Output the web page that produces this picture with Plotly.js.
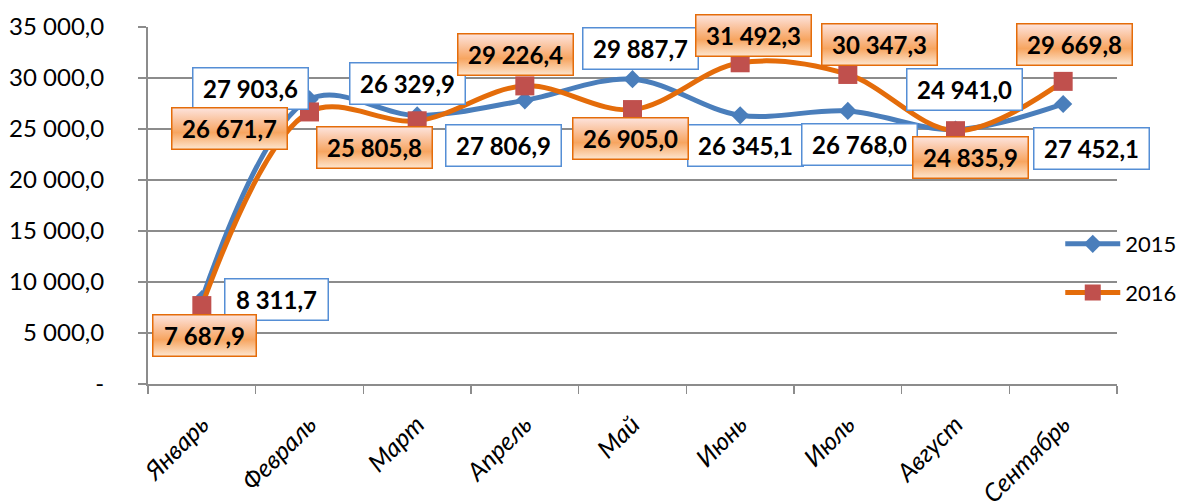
<!DOCTYPE html>
<html><head><meta charset="utf-8">
<script src="https://cdn.plot.ly/plotly-3.0.1.min.js"></script>
<style>body{margin:0;background:#fff}#c{width:1182px;height:504px}</style>
</head><body><div id="c"></div>
<script>
const months = ["Январь","Февраль","Март","Апрель","Май","Июнь","Июль","Август","Сентябрь"];
const v2015 = [8311.7, 27903.6, 26329.9, 27806.9, 29887.7, 26345.1, 26768.0, 24941.0, 27452.1];
const v2016 = [7687.9, 26671.7, 25805.8, 29226.4, 26905.0, 31492.3, 30347.3, 24835.9, 29669.8];
const labels2015 = ["8 311,7","27 903,6","26 329,9","27 806,9","29 887,7","26 345,1","26 768,0","24 941,0","27 452,1"];
const labels2016 = ["7 687,9","26 671,7","25 805,8","29 226,4","26 905,0","31 492,3","30 347,3","24 835,9","29 669,8"];
const yTickVals = [0,5000,10000,15000,20000,25000,30000,35000];
const yTickText = ["-","5 000,0","10 000,0","15 000,0","20 000,0","25 000,0","30 000,0","35 000,0"];
const seriesNames = ["2015","2016"];

// label box offsets (pixels, dx right, dy down) — layout only
const off2015 = [[75,0],[-59,-11],[-10,-32],[-21,45],[8,-31],[5,30],[12,34],[9,-40],[28,45]];
const off2016 = [[3,30],[-80,17],[-43,27],[-9,-31],[-2,29],[13,-27],[32,-30],[15,27],[11,-37]];

const FONT = "Lato, 'Open Sans', sans-serif";
const blue = "#4a7ebb", orange = "#e46c0a", red = "#c0504d";

const traces = [
  {x: months, y: v2015, name: seriesNames[0], type: "scatter", mode: "lines+markers",
   line: {color: blue, width: 5, shape: "spline", smoothing: 1},
   marker: {symbol: "diamond", size: 14, color: blue}, legendgroup: "a"},
  {x: months, y: v2016, name: seriesNames[1], type: "scatter", mode: "lines+markers",
   line: {color: orange, width: 5, shape: "spline", smoothing: 1},
   marker: {symbol: "square", size: 19, color: red}, legendgroup: "b"}
];

const ann = [];
function addLabels(vals, texts, offs, border, bg) {
  vals.forEach((v, i) => {
    ann.push({x: months[i], y: v, xref: "x", yref: "y", text: texts[i], showarrow: false,
      xanchor: "center", yanchor: "middle", xshift: offs[i][0], yshift: -offs[i][1],
      font: {family: FONT, size: 24, color: "#000", weight: "bold"},
      bgcolor: bg, bordercolor: border, borderwidth: 1.5, borderpad: 2,
      width: texts[i].length > 7 ? 110 : 98, height: 36, align: "center"});
  });
}
addLabels(v2015, labels2015, off2015, "#558ed5", "#ffffff");
addLabels(v2016, labels2016, off2016, orange, "#f9c39a");

const layout = {
  width: 1182, height: 504,
  margin: {l: 148, r: 65, t: 27, b: 120, autoexpand: false},
  paper_bgcolor: "#fff", plot_bgcolor: "#fff",
  font: {family: FONT, color: "#000"},
  showlegend: true,
  legend: {xref: "container", yref: "container", x: 0.897, xanchor: "left", y: 0.5575, yanchor: "top",
    bgcolor: "rgba(0,0,0,0)",
    font: {family: FONT, size: 22, color: "#000"}, itemwidth: 55, tracegroupgap: 17, traceorder: "grouped"},
  xaxis: {type: "category", range: [-0.5, 8.5], tickson: "boundaries", ticks: "outside", ticklen: 8,
    tickcolor: "#8c8c8c", tickwidth: 1.5, showline: true, linecolor: "#8c8c8c", linewidth: 2,
    showgrid: false, tickangle: -45, zeroline: false, ticklabelstandoff: 14, automargin: false,
    tickfont: {family: FONT, size: 25, style: "italic", color: "#000"}},
  yaxis: {range: [0, 35000], tickmode: "array", tickvals: yTickVals, ticktext: yTickText,
    ticks: "outside", ticklen: 8, tickcolor: "#8c8c8c", tickwidth: 1.5,
    showline: true, linecolor: "#8c8c8c", linewidth: 2, automargin: false,
    showgrid: true, gridcolor: "#8c8c8c", gridwidth: 1.5, zeroline: false,
    ticklabelstandoff: 29,
    tickfont: {family: FONT, size: 24, color: "#000"}},
  annotations: ann
};
Plotly.newPlot("c", traces, layout, {staticPlot: true}).then(() => {
  const svg = document.querySelector("#c .main-svg");
  const NS = "http://www.w3.org/2000/svg";
  let defs = svg.querySelector("defs");
  const g = document.createElementNS(NS, "linearGradient");
  g.setAttribute("id", "orgrad"); g.setAttribute("x1", "0"); g.setAttribute("y1", "0");
  g.setAttribute("x2", "0"); g.setAttribute("y2", "1");
  [["0", "#fde4de"], ["0.4", "#f9b98a"], ["0.6", "#f7a560"], ["1", "#fde6d0"]].forEach(s => {
    const st = document.createElementNS(NS, "stop");
    st.setAttribute("offset", s[0]); st.setAttribute("stop-color", s[1]); g.appendChild(st);
  });
  defs.appendChild(g);
  document.querySelectorAll("#c .annotation").forEach((a, i) => {
    if (i >= v2015.length) {
      const r = a.querySelector("rect.bg");
      if (r) r.style.fill = "url(#orgrad)";
    }
  });
});
</script></body></html>
